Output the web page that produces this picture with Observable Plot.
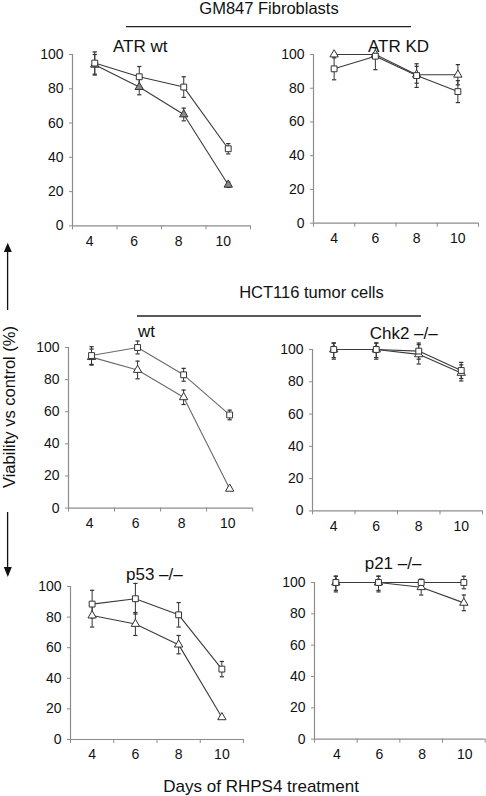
<!DOCTYPE html>
<html>
<head>
<meta charset="utf-8">
<script src="https://cdn.jsdelivr.net/npm/d3@7"></script>
<script src="https://cdn.jsdelivr.net/npm/@observablehq/plot@0.6"></script>
<style>
  html, body { margin: 0; padding: 0; background: #fff; }
  body { width: 486px; height: 796px; overflow: hidden; position: relative; font-family: "Liberation Sans", Arial, sans-serif; }
  .panel { position: absolute; }
  #overlay { position: absolute; left: 0; top: 0; pointer-events: none; }
</style>
</head>
<body>
<div id="root"></div>
<script>
// ---- data ----
const days = [4, 6, 8, 10];
const categoryEdges = [3, 5, 7, 9, 11];
const yTicks = [0, 20, 40, 60, 80, 100];

const groupTitles = ["GM847 Fibroblasts", "HCT116 tumor cells"];
const panelTitles = ["ATR wt", "ATR KD", "wt", "Chk2 –/–", "p53 –/–", "p21 –/–"];
const xAxisTitle = "Days of RHPS4 treatment";
const yAxisTitle = "Viability vs control (%)";

const atrWtSquare = [95, 87, 81, 45];
const atrWtSquareErr = [6.5, 6, 6, 3];
const atrWtTriangle = [94, 81, 65, 24];
const atrWtTriangleErr = [6, 4.5, 3.7, 1.5];

const atrKdSquare = [91.5, 99, 87.5, 78];
const atrKdSquareErr = [6.5, 8, 7, 6.5];
const atrKdTriangle = [100, 100, 88, 88];
const atrKdTriangleErr = [1, 1, 5, 6];

const hctWtSquare = [95, 100, 83, 58];
const hctWtSquareErr = [5.5, 4, 4, 3];
const hctWtTriangle = [94, 86, 69, 12];
const hctWtTriangleErr = [5, 5.5, 4.5, 1];

const chk2Square = [100, 100, 99, 87];
const chk2SquareErr = [6, 6, 5, 5];
const chk2Triangle = [100, 100, 97, 85.5];
const chk2TriangleErr = [5, 5, 6, 5];

const p53Square = [88.5, 92, 81.5, 46];
const p53SquareErr = [9, 10, 8, 5];
const p53Triangle = [81, 75.5, 62, 14.5];
const p53TriangleErr = [7.5, 7.5, 6, 1];

const p21Square = [100, 100, 100, 100];
const p21SquareErr = [6, 6, 2, 4];
const p21Triangle = [100, 100, 97, 87];
const p21TriangleErr = [5, 5, 5, 5];

// ---- layout (pixel frame of each panel's axes) ----
const panels = [
  {sq: atrWtSquare, sqE: atrWtSquareErr, tr: atrWtTriangle, trE: atrWtTriangleErr, left: 72, right: 250, top: 54.3, bottom: 225.7, triFill: "#8a8a8a", line: "#3a3a3a", labelDx: -5},
  {sq: atrKdSquare, sqE: atrKdSquareErr, tr: atrKdTriangle, trE: atrKdTriangleErr, left: 313, right: 478, top: 54, bottom: 222.7, triFill: "#fff", line: "#3a3a3a", labelDx: 0},
  {sq: hctWtSquare, sqE: hctWtSquareErr, tr: hctWtTriangle, trE: hctWtTriangleErr, left: 68.3, right: 252.5, top: 346.7, bottom: 507.3, triFill: "#fff", line: "#6a6a6a", labelDx: -2},
  {sq: chk2Square, sqE: chk2SquareErr, tr: chk2Triangle, trE: chk2TriangleErr, left: 312, right: 482, top: 349.3, bottom: 510.7, triFill: "#fff", line: "#3a3a3a", labelDx: 0},
  {sq: p53Square, sqE: p53SquareErr, tr: p53Triangle, trE: p53TriangleErr, left: 70, right: 243, top: 586, bottom: 739, triFill: "#fff", line: "#3a3a3a", labelDx: 0},
  {sq: p21Square, sqE: p21SquareErr, tr: p21Triangle, trE: p21TriangleErr, left: 314, right: 484.7, top: 582.3, bottom: 739, triFill: "#fff", line: "#3a3a3a", labelDx: 1}
];

const capSymbol = {
  draw(context, size) {
    const w = Math.sqrt(size) / 2;
    context.moveTo(-w, 0);
    context.lineTo(w, 0);
  }
};

const root = document.getElementById("root");
const ML = 44, MR = 1, MT = 14, MB = 30;

panels.forEach((p) => {
  const rows = (vals, errs, series) => days.map((d, i) => ({day: d, v: vals[i], lo: vals[i] - errs[i], hi: Math.min(vals[i] + errs[i], 104), series}));
  const sq = rows(p.sq, p.sqE, "square");
  const tr = rows(p.tr, p.trE, "triangle");
  const errMarks = (data) => [
    Plot.ruleX(data, {x: "day", y1: "lo", y2: "hi", stroke: "#333", strokeWidth: 1}),
    Plot.dot(data, {x: "day", y: "lo", symbol: capSymbol, r: 2.4, stroke: "#333", strokeWidth: 1.2}),
    Plot.dot(data, {x: "day", y: "hi", symbol: capSymbol, r: 2.4, stroke: "#333", strokeWidth: 1.2})
  ];
  const w = p.right - p.left + ML + MR;
  const h = p.bottom - p.top + MT + MB;
  const chart = Plot.plot({
    width: w,
    height: h,
    marginLeft: ML,
    marginRight: MR,
    marginTop: MT,
    marginBottom: MB,
    style: {background: "transparent", overflow: "visible", fontFamily: "'Liberation Sans', Arial, sans-serif", fontSize: "14px", color: "#111"},
    x: {domain: [categoryEdges[0], categoryEdges[categoryEdges.length - 1]]},
    y: {domain: [0, 100]},
    marks: [
      Plot.ruleY([0], {stroke: "#8c8c8c", strokeWidth: 1.2}),
      Plot.ruleX([categoryEdges[0]], {stroke: "#8c8c8c", strokeWidth: 1.2}),
      Plot.axisY({ticks: yTicks, tickSize: 3, tickPadding: 6, stroke: "#8c8c8c", fill: "#111", fontSize: 14, label: null}),
      Plot.axisX({ticks: categoryEdges, tickFormat: () => "", tickSize: 4, stroke: "#8c8c8c", label: null}),
      Plot.axisX({ticks: days, tickSize: 0, tickPadding: 10, dx: p.labelDx, fill: "#111", fontSize: 14, label: null}),
      ...errMarks(tr),
      ...errMarks(sq),
      Plot.line(tr, {x: "day", y: "v", stroke: p.line, strokeWidth: 1.1}),
      Plot.line(sq, {x: "day", y: "v", stroke: p.line, strokeWidth: 1.1}),
      Plot.dot(tr, {x: "day", y: "v", symbol: "triangle", r: 3.1, fill: p.triFill, stroke: "#333", strokeWidth: 1}),
      Plot.dot(sq, {x: "day", y: "v", symbol: "square", r: 3.3, fill: "#fff", stroke: "#333", strokeWidth: 1})
    ]
  });
  const div = document.createElement("div");
  div.className = "panel";
  div.style.left = (p.left - ML) + "px";
  div.style.top = (p.top - MT) + "px";
  div.appendChild(chart);
  root.appendChild(div);
});

// ---- overlay: group headers, panel titles, axis titles, arrows ----
const NS = "http://www.w3.org/2000/svg";
const svg = document.createElementNS(NS, "svg");
svg.setAttribute("id", "overlay");
svg.setAttribute("width", 486);
svg.setAttribute("height", 796);
svg.style.fontFamily = "'Liberation Sans', Arial, sans-serif";
const add = (tag, attrs, text) => {
  const el = document.createElementNS(NS, tag);
  for (const k in attrs) el.setAttribute(k, attrs[k]);
  if (text != null) el.textContent = text;
  svg.appendChild(el);
  return el;
};
// group headers
add("text", {x: 269, y: 13.5, "text-anchor": "middle", "font-size": 16.5, fill: "#111"}, groupTitles[0]);
add("line", {x1: 126, x2: 411, y1: 26.7, y2: 26.7, stroke: "#222", "stroke-width": 1.3});
add("text", {x: 311.5, y: 298.3, "text-anchor": "middle", "font-size": 16.5, fill: "#111"}, groupTitles[1]);
add("line", {x1: 137, x2: 421, y1: 316, y2: 316, stroke: "#222", "stroke-width": 1.3});
// panel titles
const titlePos = [[113, 52.3], [368, 52.3], [138, 336.7], [369.7, 339.3], [126, 579.5], [364.7, 569]];
panelTitles.forEach((t, i) => add("text", {x: titlePos[i][0], y: titlePos[i][1], "font-size": 17, fill: "#111"}, t));
// axis titles
add("text", {x: 163.3, y: 792, "font-size": 17, fill: "#111"}, xAxisTitle);
add("text", {transform: "translate(15.2,407) rotate(-90)", "text-anchor": "middle", "font-size": 16.5, fill: "#111"}, yAxisTitle);
// arrows
add("line", {x1: 7.6, x2: 7.6, y1: 250, y2: 310, stroke: "#111", "stroke-width": 1.3});
add("polygon", {points: "7.8,242.7 3.8,252 11.8,252", fill: "#111"});
add("line", {x1: 7.6, x2: 7.6, y1: 512, y2: 569, stroke: "#111", "stroke-width": 1.3});
add("polygon", {points: "7.8,577 3.8,567 11.8,567", fill: "#111"});
document.body.appendChild(svg);
</script>
</body>
</html>
